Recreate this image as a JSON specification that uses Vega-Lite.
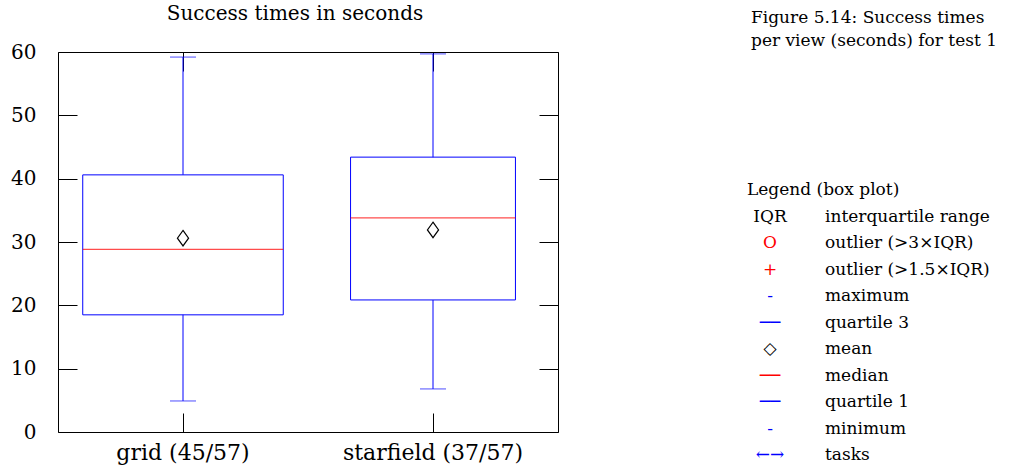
{
  "$schema": "https://vega.github.io/schema/vega-lite/v6.json",
  "padding": {"left": 10, "top": 4, "right": 0, "bottom": 0},
  "config": {
    "font": "DejaVu Serif",
    "view": {"stroke": null},
    "axis": {"grid": false, "domainColor": "black", "tickColor": "black", "labelColor": "black", "labelFont": "DejaVu Serif", "tickWidth": 1, "domainWidth": 1},
    "title": {"font": "DejaVu Serif", "fontWeight": "normal", "color": "black"}
  },
  "datasets": {
    "boxes": [
      {"cat": "grid (45/57)", "n": 45, "min": 4.9, "q1": 18.5, "median": 28.85, "mean": 30.6, "q3": 40.6, "max": 59.2},
      {"cat": "starfield (37/57)", "n": 37, "min": 6.8, "q1": 20.85, "median": 33.8, "mean": 31.9, "q3": 43.4, "max": 59.7}
    ],
    "legend": [
      {"part": "title", "sym": "", "label": "Legend (box plot)"},
      {"part": "entry", "sym": "IQR", "label": "interquartile range"},
      {"part": "entry", "sym": "O", "label": "outlier (>3×IQR)"},
      {"part": "entry", "sym": "+", "label": "outlier (>1.5×IQR)"},
      {"part": "entry", "sym": "-", "label": "maximum"},
      {"part": "entry", "sym": "──", "label": "quartile 3"},
      {"part": "entry", "sym": "◇", "label": "mean"},
      {"part": "entry", "sym": "──", "label": "median"},
      {"part": "entry", "sym": "──", "label": "quartile 1"},
      {"part": "entry", "sym": "-", "label": "minimum"},
      {"part": "entry", "sym": "←→", "label": "tasks"}
    ]
  },
  "spacing": 188,
  "hconcat": [
    {
      "width": 500,
      "height": 380,
      "title": {"text": "Success times in seconds", "fontSize": 20, "offset": 18, "dx": -13},
      "data": {"name": "boxes"},
      "encoding": {
        "x": {"field": "cat", "type": "nominal", "sort": null, "scale": {"paddingInner": 0, "paddingOuter": 0}, "axis": null}
      },
      "resolve": {"axis": {"x": "independent", "y": "independent"}},
      "layer": [
        {
          "mark": {"type": "rule", "color": "#0000ff", "strokeWidth": 1},
          "encoding": {
            "x": {"field": "cat", "type": "nominal", "sort": null, "scale": {"paddingInner": 0, "paddingOuter": 0},
              "axis": {"orient": "bottom", "title": null, "labelAngle": 0, "labelFontSize": 22, "labelPadding": 29, "labelLimit": 400, "tickSize": -19, "bandPosition": 0.5}},
            "y": {"field": "min", "type": "quantitative", "scale": {"domain": [0, 60], "nice": false},
              "axis": {"orient": "left", "values": [0, 10, 20, 30, 40, 50, 60], "title": null, "tickSize": -19, "labelPadding": 41, "labelFontSize": 20}},
            "y2": {"field": "max"}
          }
        },
        {
          "mark": {"type": "bar", "fill": "white", "stroke": "#0000ff", "strokeWidth": 1},
          "encoding": {
            "y": {"field": "q1", "type": "quantitative", "axis": null},
            "y2": {"field": "q3"},
            "size": {"field": "n", "type": "quantitative", "scale": {"domain": [0, 57], "range": [0, 254]}, "legend": null}
          }
        },
        {
          "mark": {"type": "tick", "color": "#ff0000", "thickness": 1.3, "orient": "horizontal"},
          "encoding": {
            "y": {"field": "median", "type": "quantitative", "axis": null},
            "size": {"field": "n", "type": "quantitative", "legend": null}
          }
        },
        {
          "mark": {"type": "tick", "color": "#0000ff", "thickness": 1, "orient": "horizontal", "size": 26},
          "encoding": {
            "y": {"field": "max", "type": "quantitative", "axis": null}
          }
        },
        {
          "mark": {"type": "tick", "color": "#0000ff", "thickness": 1, "orient": "horizontal", "size": 26},
          "encoding": {
            "y": {"field": "min", "type": "quantitative", "axis": null}
          }
        },
        {
          "mark": {"type": "point", "shape": "M0,-1L0.72,0L0,1L-0.72,0Z", "filled": false, "stroke": "black", "strokeWidth": 1.2, "size": 240, "opacity": 1},
          "encoding": {
            "x": {"field": "cat", "type": "nominal", "sort": null, "scale": {"paddingInner": 0, "paddingOuter": 0},
              "axis": {"orient": "top", "title": null, "labels": false, "tickSize": -19, "bandPosition": 0.5}},
            "y": {"field": "mean", "type": "quantitative",
              "axis": {"orient": "right", "values": [0, 10, 20, 30, 40, 50, 60], "title": null, "labels": false, "tickSize": -19}}
          }
        }
      ]
    },
    {
      "width": 270,
      "height": 416,
      "title": {"text": ["Figure 5.14: Success times", "per view (seconds) for test 1"], "anchor": "start", "fontSize": 17, "lineHeight": 23, "offset": 2, "dx": 4, "frame": "group"},
      "data": {"name": "legend"},
      "encoding": {
        "y": {"field": "label", "type": "nominal", "axis": null,
          "scale": {"type": "point", "padding": 0, "range": [138, 403], "domain": ["Legend (box plot)", "interquartile range", "outlier (>3×IQR)", "outlier (>1.5×IQR)", "maximum", "quartile 3", "mean", "median", "quartile 1", "minimum", "tasks"]}}
      },
      "layer": [
        {
          "transform": [{"filter": "datum.part == 'title'"}],
          "mark": {"type": "text", "align": "left", "baseline": "middle", "fontSize": 17, "x": 0, "color": "black"},
          "encoding": {"text": {"field": "label"}}
        },
        {
          "transform": [{"filter": "datum.part == 'entry'"}],
          "mark": {"type": "text", "align": "left", "baseline": "middle", "fontSize": 17, "x": 78, "color": "black"},
          "encoding": {"text": {"field": "label"}}
        },
        {
          "transform": [{"filter": "datum.part == 'entry'"}],
          "mark": {"type": "text", "align": "center", "baseline": "middle", "fontSize": 17, "x": 23},
          "encoding": {
            "text": {"field": "sym"},
            "color": {"field": "label", "type": "nominal", "legend": null,
              "scale": {"domain": ["interquartile range", "outlier (>3×IQR)", "outlier (>1.5×IQR)", "maximum", "quartile 3", "mean", "median", "quartile 1", "minimum", "tasks"],
                "range": ["black", "#ff0000", "#ff0000", "#0000ff", "#0000ff", "black", "#ff0000", "#0000ff", "#0000ff", "#0000ff"]}}
          }
        }
      ]
    }
  ]
}
